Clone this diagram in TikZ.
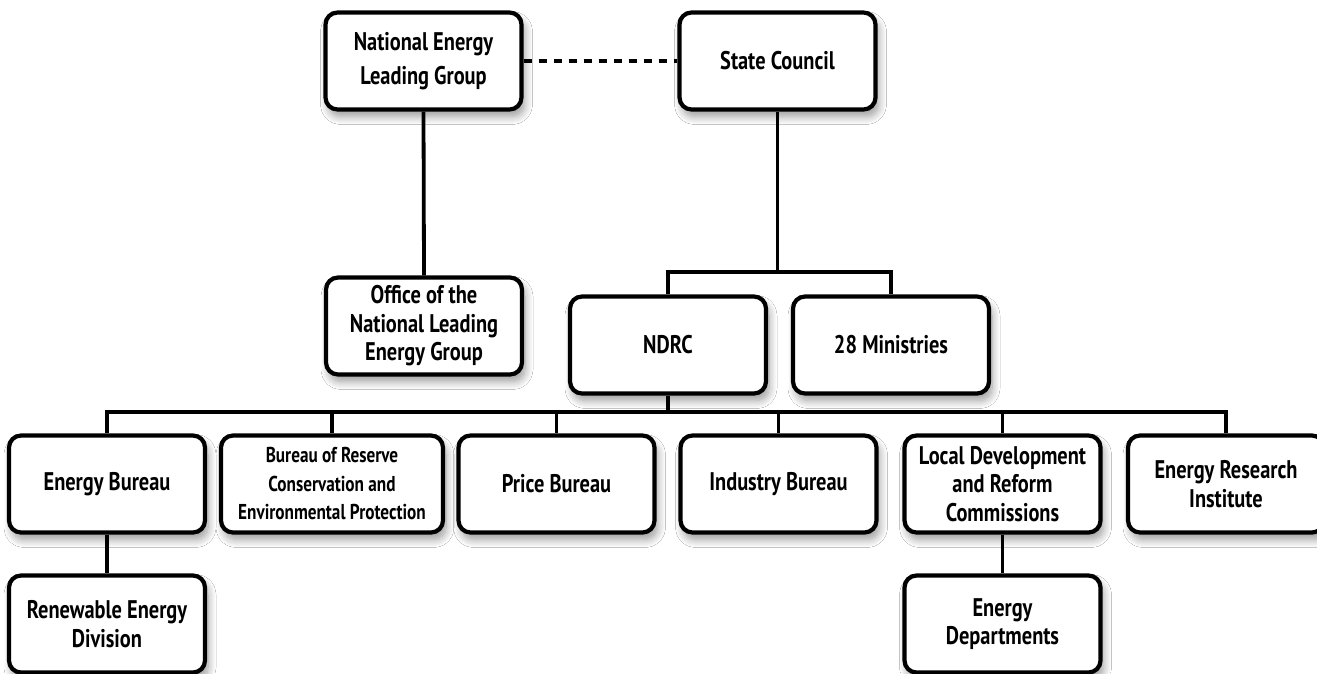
\documentclass[tikz,border=0pt]{standalone}
\usepackage{fontspec}
\setmainfont{PT Sans}[FakeStretch=0.8]
\usetikzlibrary{shadows.blur}
\begin{document}
\begin{tikzpicture}[x=1pt,y=-1pt,
  org/.style={draw=black, line width=4.2pt, rounded corners=12pt, fill=white,
    minimum width=196pt, minimum height=97pt, align=center, inner sep=2pt,
    font=\bfseries\fontsize{25.5}{28.5}\selectfont,
    blur shadow={shadow blur steps=10, shadow xshift=3pt, shadow yshift=-7pt, shadow opacity=40, shadow blur radius=8pt}},
  conn/.style={line width=3.8pt},
  dotconn/.style={line width=4.8pt, dash pattern=on 8pt off 7pt}]
\useasboundingbox (0,0) rectangle (1317,673);
\fill[white] (0,0) rectangle (1317,673);
\coordinate (b1) at (0,272);
\coordinate (b2) at (0,412);
\node[org, font=\bfseries\fontsize{25.5}{34}\selectfont] (nelg) at (423.5,61) {National Energy\\Leading Group};
\node[org] (sc) at (777.5,61) {State Council};
\node[org] (off) at (424,326) {Office of the\\National Leading\\Energy Group};
\node[org] (ndrc) at (668,345) {NDRC};
\node[org] (min) at (891,345) {28 Ministries};
\node[org] (eb) at (107,484) {Energy Bureau};
\node[org, minimum width=222pt, font=\bfseries\fontsize{21.5}{28.5}\selectfont] (brc) at (332,484) {Bureau of Reserve\\Conservation and\\Environmental Protection};
\node[org] (pb) at (556.5,484) {Price Bureau};
\node[org] (ib) at (778.5,484) {Industry Bureau};
\node[org] (ldrc) at (1002.5,484) {Local Development\\and Reform\\Commissions};
\node[org] (eri) at (1226,484) {Energy Research\\Institute};
\node[org] (red) at (107,624) {Renewable Energy\\Division};
\node[org] (ed) at (1002.5,624) {Energy\\Departments};
% connectors
\draw[dotconn] (nelg.east) -- (sc.west);
\draw[conn] (nelg.south) -- (off.north);
\draw[conn] (sc.south) -- (sc.south |- b1);
\draw[conn] (ndrc.north) -- (ndrc.north |- b1) -- (min.north |- b1) -- (min.north);
\draw[conn] (ndrc.south) -- (ndrc.south |- b2);
\draw[conn] (eb.north) -- (eb.north |- b2) -- (eri.north |- b2) -- (eri.north);
\draw[conn] (brc.north) -- (brc.north |- b2);
\draw[conn] (pb.north) -- (pb.north |- b2);
\draw[conn] (ib.north) -- (ib.north |- b2);
\draw[conn] (ldrc.north) -- (ldrc.north |- b2);
\draw[conn] (eb.south) -- (red.north);
\draw[conn] (ldrc.south) -- (ed.north);
\end{tikzpicture}
\end{document}
